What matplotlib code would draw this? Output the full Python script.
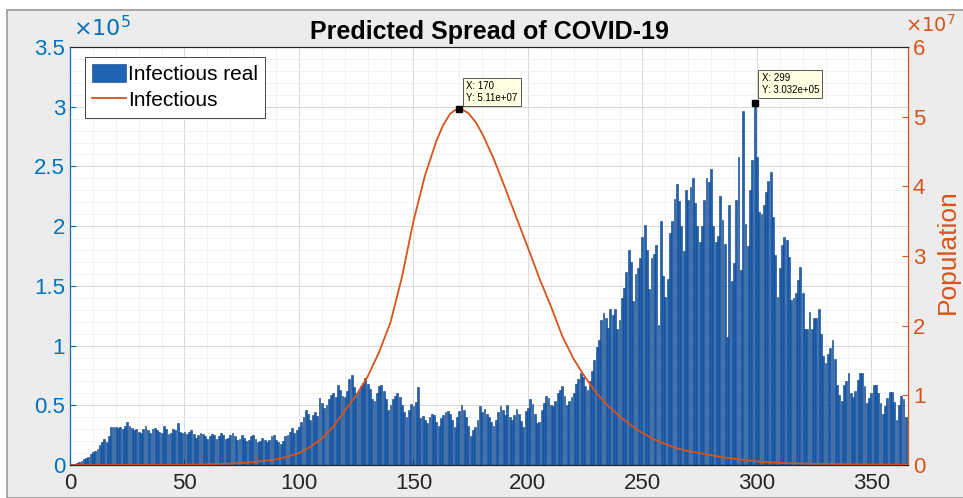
import numpy as np
import matplotlib
matplotlib.use("Agg")
import matplotlib.pyplot as plt
from matplotlib.patches import Rectangle
from matplotlib.ticker import FuncFormatter, MultipleLocator

plt.rcParams['font.family'] = ['Liberation Sans', 'DejaVu Sans']

# daily infectious cases (thousands), day 1..365
infectious_real_k = [
    0.5, 1, 1.5, 2.5, 3.5, 5, 6, 7, 9, 11,
    12, 13, 17, 19, 22, 19, 24, 32, 32, 32,
    31, 32, 30, 33, 36, 33, 31, 29, 30, 28,
    27, 30, 33, 29, 27, 30, 31, 29, 28, 27,
    33, 30, 26, 27, 30, 29, 35, 28, 27, 28,
    26, 28, 29, 26, 23, 25, 27, 26, 24, 22,
    24, 26, 25, 22, 24, 27, 25, 22, 23, 25,
    27, 24, 21, 22, 25, 23, 20, 21, 24, 25,
    22, 19, 20, 23, 21, 19, 21, 24, 25, 21,
    19, 18, 20, 24, 25, 28, 31, 27, 29, 32,
    36, 40, 46, 43, 38, 42, 44, 41, 56, 52,
    48, 50, 55, 59, 60, 57, 67, 63, 58, 57,
    62, 72, 75, 65, 60, 62, 66, 69, 73, 68,
    64, 55, 54, 60, 66, 67, 62, 55, 46, 50,
    55, 58, 60, 57, 50, 44, 40, 46, 51, 49,
    53, 65, 39, 41, 38, 35, 40, 43, 42, 36,
    33, 39, 42, 44, 45, 43, 38, 32, 40, 45,
    50, 46, 40, 33, 24, 29, 32, 38, 49, 44,
    47, 43, 40, 36, 33, 38, 44, 49, 46, 42,
    50, 40, 38, 42, 47, 43, 37, 32, 45, 48,
    55, 51, 43, 35, 36, 46, 52, 58, 56, 50,
    49, 54, 60, 63, 66, 58, 50, 54, 57, 60,
    68, 72, 77, 74, 66, 63, 70, 79, 88, 99,
    105, 121, 127, 123, 115, 131, 126, 131, 114, 121,
    140, 148, 162, 180, 170, 137, 160, 165, 173, 191,
    201, 180, 147, 173, 177, 184, 117, 204, 158, 141,
    156, 194, 204, 223, 235, 221, 200, 179, 230, 222,
    233, 240, 219, 200, 187, 200, 222, 240, 237, 248,
    200, 187, 192, 225, 205, 185, 107, 218, 154, 169,
    222, 258, 163, 296, 202, 183, 230, 255, 303.2, 258,
    212, 210, 218, 229, 238, 245, 208, 176, 141, 165,
    184, 191, 188, 174, 138, 140, 144, 155, 166, 144,
    114, 114, 128, 114, 123, 123, 131, 110, 91, 85,
    93, 98, 105, 89, 67, 59, 54, 67, 70, 77,
    60, 57, 62, 71, 77, 77, 66, 52, 56, 60,
    67, 67, 60, 52, 43, 49, 56, 61, 61, 53,
    38, 50, 58, 55, 40,
]
days = np.arange(1, len(infectious_real_k) + 1)
infectious_real = np.array(infectious_real_k) * 1e3

# model curve (units of 1e7 people)
model_days = [0, 50, 60, 70, 80, 90, 95, 100, 105, 110, 115, 120, 125, 130,
              135, 140, 145, 150, 155, 160, 163, 166, 168, 170, 172, 174, 177,
              180, 185, 190, 195, 200, 205, 210, 215, 220, 225, 230, 235, 240,
              245, 250, 255, 260, 265, 270, 275, 280, 285, 290, 295, 300, 310,
              320, 340, 366]
model_pop_e7 = [0, 0.003, 0.01, 0.02, 0.04, 0.08, 0.12, 0.17, 0.26, 0.38,
                0.55, 0.78, 1.0, 1.27, 1.62, 2.05, 2.7, 3.5, 4.15, 4.65,
                4.88, 5.04, 5.09, 5.11, 5.09, 5.05, 4.93, 4.76, 4.4, 3.98,
                3.55, 3.12, 2.68, 2.28, 1.85, 1.52, 1.26, 1.03, 0.85, 0.7,
                0.57, 0.46, 0.37, 0.3, 0.24, 0.2, 0.17, 0.14, 0.11, 0.09,
                0.07, 0.05, 0.03, 0.02, 0.01, 0.005]
model_pop = np.array(model_pop_e7) * 1e7

tip_model = (170, 5.11e7)
tip_real = (299, 3.032e5)

BLUE = '#0072BD'
RED = '#D95319'
DARK = '#262626'

fig = plt.figure(figsize=(9.63, 4.98), dpi=100)
fig.patch.set_facecolor('white')
fig.patches.append(Rectangle((7 / 963, 0), 1, 1 - 10 / 498, transform=fig.transFigure,
                             facecolor='#ececec', edgecolor='#9a9a9a', lw=1.2, zorder=-10))

ax = fig.add_axes([70 / 963, 1 - 465 / 498, 838 / 963, 418 / 498])
ax2 = ax.twinx()

ax.bar(days, infectious_real, width=0.8, color='#1f63b4', edgecolor='#0d3f80',
       linewidth=0.4, label='Infectious real')
ax2.plot(model_days, model_pop, color=RED, lw=1.3, label='Infectious')

ax.set_xlim(0, 366)
ax.set_ylim(0, 3.5e5)
ax2.set_ylim(0, 6e7)
ax.xaxis.set_major_locator(MultipleLocator(50))
ax.xaxis.set_minor_locator(MultipleLocator(10))
ax.yaxis.set_major_locator(MultipleLocator(0.5e5))
ax.yaxis.set_minor_locator(MultipleLocator(0.1e5))
ax2.yaxis.set_major_locator(MultipleLocator(1e7))
ax.yaxis.set_major_formatter(FuncFormatter(lambda v, p: f'{v / 1e5:g}'))
ax2.yaxis.set_major_formatter(FuncFormatter(lambda v, p: f'{v / 1e7:g}'))

ax.set_axisbelow(True)
ax.grid(which='major', color='#d8d8d8', lw=0.7)
ax.grid(which='minor', color='#f0f0f0', lw=0.6)

ax.tick_params(axis='x', which='both', direction='in', colors=DARK, labelsize=16, length=4, pad=6)
ax.tick_params(axis='x', which='minor', length=0)
ax.tick_params(axis='y', which='both', direction='in', colors=BLUE, labelsize=16, length=4)
ax.tick_params(axis='y', which='minor', length=0)
ax2.tick_params(axis='y', direction='in', colors=RED, labelsize=16, length=4)
for s in ('top', 'bottom'):
    ax.spines[s].set_color(DARK)
ax2.spines['left'].set_color(BLUE)
ax2.spines['right'].set_color(RED)
ax2.spines['top'].set_color(DARK)
ax2.spines['bottom'].set_color(DARK)

ax.set_title('Predicted Spread of COVID-19', fontsize=18, fontweight='bold', color='black', pad=6)

fig.text(73 / 963, 1 - 41 / 498, r'$\times10^{5}$', color=BLUE, fontsize=16, ha='left', va='bottom')
fig.text(905 / 963, 1 - 36 / 498, r'$\times10^{7}$', color=RED, fontsize=14, ha='left', va='bottom')
fig.text(948 / 963, 1 - 252 / 498, 'Population', color=RED, fontsize=19, rotation=90,
         ha='center', va='center')

# data tips
box = dict(boxstyle='square,pad=0.35', facecolor='#ffffe1', edgecolor='#3a3a3a', lw=0.6)
ax2.plot(*tip_model, 's', color='black', ms=4, zorder=5)
ax2.annotate(f'X: {tip_model[0]}\nY: 5.11e+07',
             xy=tip_model, xytext=(7, 6), textcoords='offset pixels',
             fontsize=7, ha='left', va='bottom', bbox=box, zorder=6)
ax.plot(*tip_real, 's', color='black', ms=4, zorder=5)
ax2.annotate(f'X: {tip_real[0]}\nY: 3.032e+05',
             xy=(tip_real[0], tip_real[1] / 3.5e5 * 6e7), xytext=(7, 8), textcoords='offset pixels',
             fontsize=7, ha='left', va='bottom', bbox=box, zorder=6)

h1, l1 = ax.get_legend_handles_labels()
h2, l2 = ax2.get_legend_handles_labels()
leg = ax2.legend(h1 + h2, l1 + l2, loc='upper left', bbox_to_anchor=(0.018, 0.976),
                 fontsize=15, frameon=True, fancybox=False, framealpha=1,
                 edgecolor=DARK, borderpad=0.35, handlelength=1.6, handleheight=0.9,
                 handletextpad=0.1, labelspacing=0.3, borderaxespad=0)
leg.get_frame().set_linewidth(0.6)

fig.savefig('out.png', dpi=100, facecolor=fig.get_facecolor())
